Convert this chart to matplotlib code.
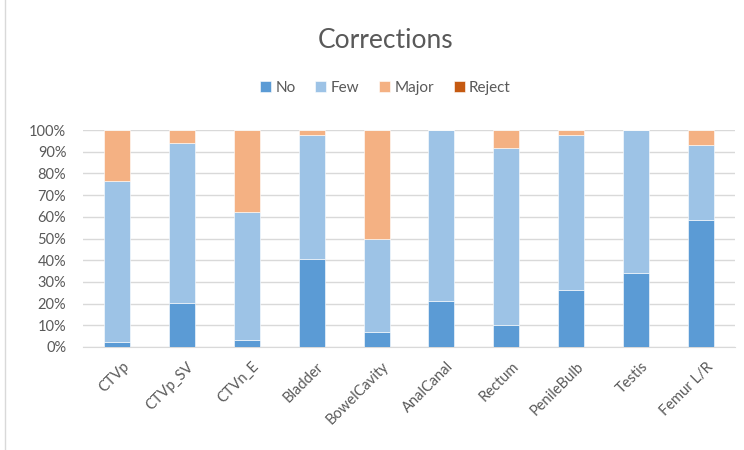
import matplotlib
matplotlib.use("Agg")
import matplotlib.pyplot as plt
import matplotlib.ticker as mticker
import matplotlib.transforms as mtransforms
import numpy as np

plt.rcParams['font.family'] = ['Lato', 'DejaVu Sans']

structures = ["CTVp", "CTVp_SV", "CTVn_E", "Bladder", "BowelCavity",
              "AnalCanal", "Rectum", "PenileBulb", "Testis", "Femur L/R"]
no_corr = [2.3, 20.3, 3.0, 40.4, 7.0, 21.0, 10.2, 26.1, 34.0, 58.6]
few_corr = [74.4, 73.8, 59.3, 57.3, 42.6, 79.0, 81.6, 71.6, 66.0, 34.6]
major_corr = [23.3, 5.9, 37.7, 2.3, 50.4, 0.0, 8.2, 2.3, 0.0, 6.8]
reject = [0, 0, 0, 0, 0, 0, 0, 0, 0, 0]

series = [("No", no_corr, "#5B9BD5"),
          ("Few", few_corr, "#9DC3E6"),
          ("Major", major_corr, "#F4B183"),
          ("Reject", reject, "#C55A11")]

text_col = "#595959"

fig = plt.figure(figsize=(7.44, 4.5), dpi=100)
ax = fig.add_axes([83 / 744, 103 / 450, 652 / 744, 217 / 450])

x = np.arange(len(structures))
bottom = np.zeros(len(structures))
for name, vals, col in series:
    vals = np.array(vals, dtype=float)
    ax.bar(x, vals, 0.4, bottom=bottom, color=col, label=name,
           edgecolor="white", linewidth=0.4, zorder=3)
    bottom += vals

ax.set_xlim(-0.52, len(structures) - 0.48)
ax.set_ylim(0, 100)
ax.set_yticks(np.arange(0, 101, 10))
ax.yaxis.set_major_formatter(mticker.FuncFormatter(lambda v, p: "%d%%" % v))
ax.grid(axis="y", color="#D9D9D9", linewidth=1, zorder=0)
for s in ["top", "right", "left"]:
    ax.spines[s].set_visible(False)
ax.spines["bottom"].set_color("#D9D9D9")
ax.tick_params(axis="both", length=0, colors=text_col, labelsize=10.5)
ax.tick_params(axis="y", pad=12)
ax.tick_params(axis="x", pad=9)
ax.set_xticks(x)
ax.set_xticklabels(structures, rotation=45, ha="right", rotation_mode="anchor")
# Excel puts the end of the slanted label a bit right of the bar centre
shift = mtransforms.ScaledTranslation(5 / 100, 0, fig.dpi_scale_trans)
for lbl in ax.get_xticklabels():
    lbl.set_transform(lbl.get_transform() + shift)

fig.text(0.518, 0.91, "Corrections", ha="center", va="center",
         fontsize=19, color=text_col)
fig.legend(loc="center", bbox_to_anchor=(0.518, 0.805), ncol=4, frameon=False,
           fontsize=11, handlelength=0.7, handleheight=0.7,
           handletextpad=0.3, columnspacing=1.3, labelcolor=text_col)

# thin frame line at the left edge, as in the source screenshot
fig.add_artist(plt.Line2D([5 / 744, 5 / 744], [0, 1], color="#D9D9D9",
                          linewidth=1, transform=fig.transFigure))

fig.savefig("out.png", dpi=100)
